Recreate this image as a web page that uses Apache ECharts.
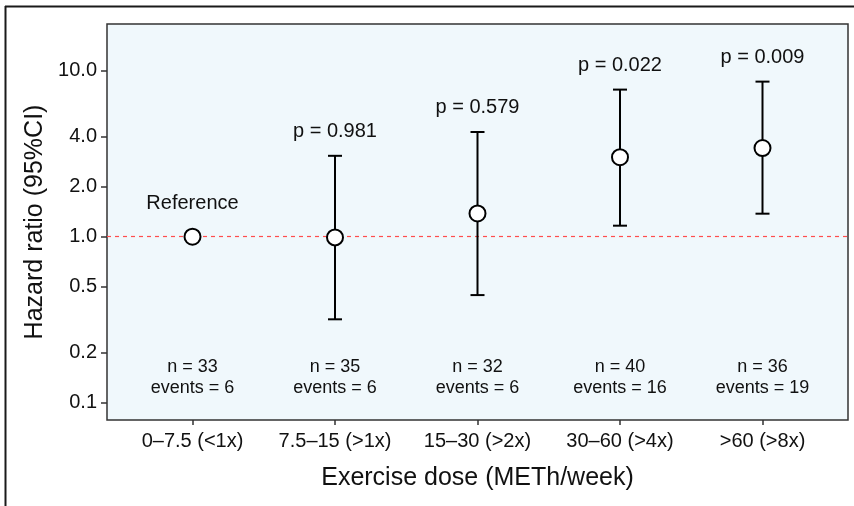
<!DOCTYPE html>
<html>
<head>
<meta charset="utf-8">
<script src="https://cdn.jsdelivr.net/npm/echarts@6/dist/echarts.min.js"></script>
<style>
html,body{margin:0;padding:0;background:#fff;}
#chart{width:854px;height:506px;}
</style>
</head>
<body>
<div id="chart"></div>
<script>
// ---- data ----
const categories = ['0\u20137.5 (<1x)', '7.5\u201315 (>1x)', '15\u201330 (>2x)', '30\u201360 (>4x)', '>60 (>8x)'];
const hazardRatio = [1.0, 0.99, 1.38, 3.01, 3.42];
const ciLower = [null, 0.318, 0.445, 1.165, 1.376];
const ciUpper = [null, 3.07, 4.27, 7.69, 8.59];
const pLabels = ['Reference', 'p = 0.981', 'p = 0.579', 'p = 0.022', 'p = 0.009'];
const nCounts = [33, 35, 32, 40, 36];
const eventCounts = [6, 6, 6, 16, 19];
const yTickValues = [0.1, 0.2, 0.5, 1.0, 2.0, 4.0, 10.0];

const L = v => Math.log10(v);
const FONT = '"Liberation Sans", Arial, Helvetica, sans-serif';
const TXT = '#111111';

const chart = echarts.init(document.getElementById('chart'), null, {renderer: 'canvas'});

const idx = categories.map((c, i) => i);
const pointData = idx.map(i => [i, L(hazardRatio[i])]);
const errData = idx.filter(i => ciLower[i] != null).map(i => [i, L(ciLower[i]), L(ciUpper[i])]);
const pData = idx.map(i => {
  const top = ciUpper[i] != null ? ciUpper[i] : hazardRatio[i];
  const item = {value: [i, L(top)], name: pLabels[i]};
  if (ciUpper[i] == null) item.label = {distance: 23};
  return item;
});
const nLabelY = L(0.142);
const nData = idx.map(i => ({value: [i, nLabelY], name: 'n = ' + nCounts[i] + '\nevents = ' + eventCounts[i]}));

const option = {
  animation: false,
  textStyle: {fontFamily: FONT},
  graphic: [
    {type: 'line', shape: {x1: 5.5, y1: 6, x2: 5.5, y2: 506}, style: {stroke: '#1a1a1a', lineWidth: 2}, z: 100},
    {type: 'line', shape: {x1: 5, y1: 6.5, x2: 854, y2: 6.5}, style: {stroke: '#1a1a1a', lineWidth: 2}, z: 100}
  ],
  grid: {
    left: 107, top: 24, width: 741, height: 396,
    show: true, backgroundColor: '#F0F8FC', borderColor: '#333333', borderWidth: 1.5,
    containLabel: false
  },
  xAxis: {
    type: 'value', min: -0.6, max: 4.6, position: 'bottom',
    name: 'Exercise dose (METh/week)', nameLocation: 'middle', nameGap: 46,
    nameTextStyle: {fontSize: 25, color: TXT, fontFamily: FONT},
    axisLine: {show: false, onZero: false},
    splitLine: {show: false},
    axisTick: {show: true, length: 5, customValues: idx, lineStyle: {color: '#333', width: 1.5}},
    axisLabel: {customValues: idx, formatter: v => categories[Math.round(v)] || '', fontSize: 20, color: TXT, margin: 11, fontFamily: FONT}
  },
  yAxis: {
    type: 'value', min: L(0.0787), max: L(19.1), position: 'left',
    name: 'Hazard ratio (95%CI)', nameLocation: 'middle', nameGap: 59,
    nameTextStyle: {fontSize: 25, color: TXT, fontFamily: FONT},
    axisLine: {show: false, onZero: false},
    splitLine: {show: false},
    axisTick: {show: true, length: 6, customValues: yTickValues.map(L), lineStyle: {color: '#333', width: 1.5}},
    axisLabel: {customValues: yTickValues.map(L), formatter: v => Math.pow(10, v).toFixed(1), fontSize: 20, color: TXT, margin: 10, fontFamily: FONT}
  },
  series: [
    {
      type: 'custom',
      data: errData,
      z: 3,
      renderItem: function (params, api) {
        const x = api.value(0);
        const pLo = api.coord([x, api.value(1)]);
        const pHi = api.coord([x, api.value(2)]);
        const hw = 7;
        const st = {stroke: '#000', lineWidth: 2};
        return {type: 'group', children: [
          {type: 'line', shape: {x1: pHi[0], y1: pHi[1], x2: pLo[0], y2: pLo[1]}, style: st},
          {type: 'line', shape: {x1: pHi[0] - hw, y1: pHi[1], x2: pHi[0] + hw, y2: pHi[1]}, style: st},
          {type: 'line', shape: {x1: pLo[0] - hw, y1: pLo[1], x2: pLo[0] + hw, y2: pLo[1]}, style: st}
        ]};
      },
      markLine: {
        silent: true, symbol: 'none',
        label: {show: false},
        lineStyle: {color: '#FF4D4D', type: [4, 4], width: 1.2},
        data: [{yAxis: 0}],
        z: 1
      }
    },
    {
      type: 'scatter',
      data: pointData,
      symbol: 'circle', symbolSize: 16,
      itemStyle: {color: '#ffffff', borderColor: '#000', borderWidth: 2, opacity: 1},
      z: 5
    },
    {
      type: 'scatter',
      data: pData,
      symbolSize: 1,
      itemStyle: {color: 'rgba(0,0,0,0)', opacity: 1},
      label: {show: true, position: 'top', distance: 14, formatter: p => p.name, fontSize: 20, color: TXT, fontFamily: FONT},
      z: 6
    },
    {
      type: 'scatter',
      data: nData,
      symbolSize: 1,
      itemStyle: {color: 'rgba(0,0,0,0)', opacity: 1},
      label: {show: true, position: 'inside', formatter: p => p.name, fontSize: 18, lineHeight: 21, color: TXT, fontFamily: FONT},
      z: 6
    }
  ]
};
chart.setOption(option);
</script>
</body>
</html>
